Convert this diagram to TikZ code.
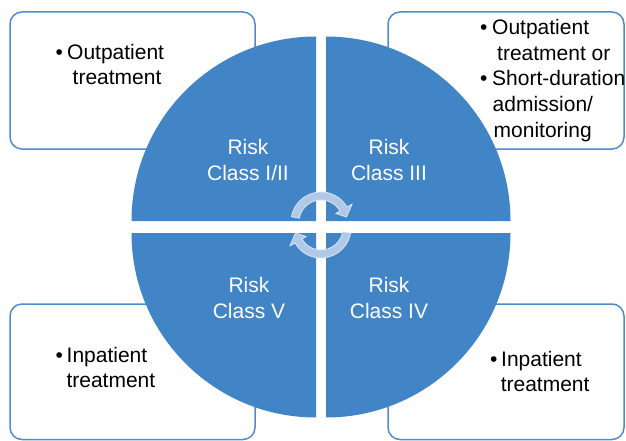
\documentclass[tikz,border=0pt]{standalone}
\usepackage{fontspec}
\setmainfont{Liberation Sans}
\definecolor{quad}{RGB}{66,133,198}
\definecolor{boxline}{RGB}{80,140,205}
\definecolor{arrfill}{RGB}{178,200,232}
\definecolor{arrline}{RGB}{218,228,244}
\begin{document}
\begin{tikzpicture}[x=1pt,y=-1pt,
  infobox/.style={draw=boxline, line width=1.5pt, fill=white, rounded corners=12pt, rectangle, inner sep=0pt},
  quadrant/.style={fill=quad},
  bodytext/.style={font=\fontsize{21}{25.5}\selectfont, inner sep=0pt, anchor=base west, text=black},
  risktext/.style={font=\fontsize{21}{25.5}\selectfont, inner sep=0pt, anchor=base, text=white},
  cyclearrow/.style={fill=arrfill, draw=arrline, line width=0.8pt, line join=round}]
\useasboundingbox (0,0) rectangle (626,441);
\fill[white] (0,0) rectangle (626,441);
% boxes
\node[infobox, minimum width=245pt, minimum height=137pt] (boxTL) at (132.5,80.5) {};
\node[infobox, minimum width=236pt, minimum height=137pt] (boxTR) at (506,80.5) {};
\node[infobox, minimum width=245pt, minimum height=135.5pt] (boxBL) at (132.5,371.75) {};
\node[infobox, minimum width=236pt, minimum height=135.5pt] (boxBR) at (506,371.75) {};
% quadrants
\fill[quadrant] (316,221) -- (131.5,221) arc[start angle=180, end angle=270, radius=184.5] -- cycle;
\fill[quadrant] (326,221) -- (326,36.5) arc[start angle=270, end angle=360, radius=184.5] -- cycle;
\fill[quadrant] (316,233) -- (131.5,233) arc[start angle=180, end angle=90, radius=184.5] -- cycle;
\fill[quadrant] (326,233) -- (510.5,233) arc[start angle=0, end angle=90, radius=184.5] -- cycle;
% cycle arrows
\begin{scope}[shift={(321,222)}, yscale=-1]
\draw[cyclearrow] (170:30) arc[start angle=170, end angle=30, radius=30] -- (30:36) -- (11:26) -- (30:17) -- (30:22) arc[start angle=30, end angle=170, radius=22] -- cycle;
\end{scope}
\begin{scope}[shift={(321,228)}, yscale=-1, rotate=180]
\draw[cyclearrow] (170:30) arc[start angle=170, end angle=30, radius=30] -- (30:36) -- (11:26) -- (30:17) -- (30:22) arc[start angle=30, end angle=170, radius=22] -- cycle;
\end{scope}
% risk labels
\node[risktext] (r1a) at (248,154) {Risk};
\node[risktext] (r1b) at (248,180) {Class I/II};
\node[risktext] (r3a) at (389,154) {Risk};
\node[risktext] (r3b) at (389,180) {Class III};
\node[risktext] (r5a) at (249,292) {Risk};
\node[risktext] (r5b) at (249,318) {Class V};
\node[risktext] (r4a) at (389,292) {Risk};
\node[risktext] (r4b) at (389,318) {Class IV};
% box texts
\node[bodytext] (tl1) at (55.5,59.5) {\makebox[11.5pt][l]{•}Outpatient};
\node[bodytext] (tl2) at (72.5,85) {treatment};
\node[bodytext] (tr1) at (480,35) {\makebox[12pt][l]{•}Outpatient};
\node[bodytext] (tr2) at (497,60.5) {treatment or};
\node[bodytext] (tr3) at (480,86) {\makebox[12pt][l]{•}Short-duration};
\node[bodytext] (tr4) at (492.5,111.5) {admission/};
\node[bodytext] (tr5) at (493.5,137) {monitoring};
\node[bodytext] (bl1) at (55.5,362) {\makebox[11pt][l]{•}Inpatient};
\node[bodytext] (bl2) at (66.3,387.5) {treatment};
\node[bodytext] (br1) at (490,366) {\makebox[11pt][l]{•}Inpatient};
\node[bodytext] (br2) at (500.6,391) {treatment};
\end{tikzpicture}
\end{document}
